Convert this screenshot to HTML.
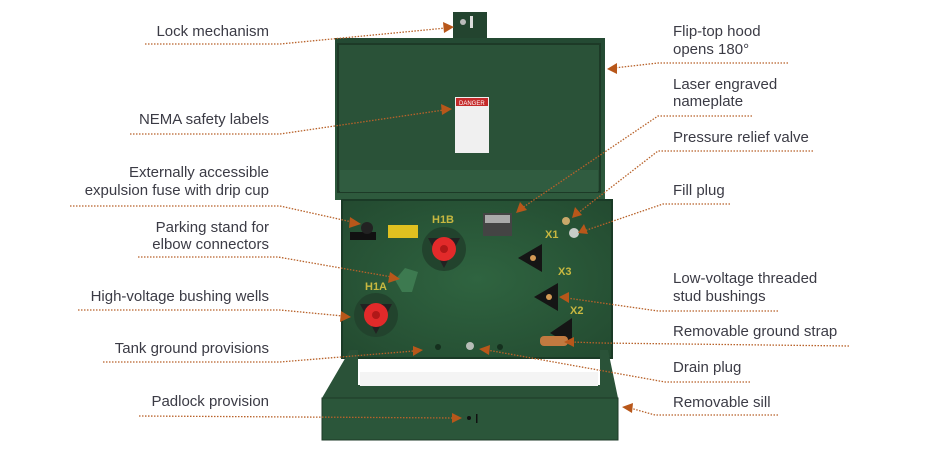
<!DOCTYPE html>
<html><head><meta charset="utf-8"><style>
html,body{margin:0;padding:0;background:#fff;width:936px;height:452px;overflow:hidden}
svg{display:block}
text{font-family:"Liberation Sans",sans-serif;font-size:15px;fill:#3b3b45}
.l{stroke:#b8622a;stroke-width:1.3;stroke-dasharray:1.5 1.5;fill:none}
.a{fill:#b8571a}
</style></head><body>
<svg width="936" height="452" viewBox="0 0 936 452" xmlns="http://www.w3.org/2000/svg">
<defs>
<linearGradient id="hood" x1="0" y1="0" x2="0" y2="1"><stop offset="0" stop-color="#244a33"/><stop offset="1" stop-color="#2e5a3d"/></linearGradient>
<radialGradient id="tank" cx="0.5" cy="0.5" r="0.7"><stop offset="0" stop-color="#2f6440"/><stop offset="1" stop-color="#234a30"/></radialGradient>
</defs>
<!-- transformer -->
<rect x="453" y="12" width="34" height="28" fill="#23442f"/>
<rect x="470" y="16" width="3" height="12" fill="#ddd"/><circle cx="463" cy="22" r="3" fill="#bbb"/>
<rect x="335" y="38" width="270" height="162" fill="url(#hood)"/>
<rect x="338" y="44" width="262" height="148" fill="#2a5238" stroke="#1d3a27" stroke-width="2"/>
<rect x="340" y="170" width="258" height="22" fill="#305c40"/>
<rect x="455" y="97" width="34" height="56" fill="#f0f0f0"/>
<rect x="456" y="98" width="32" height="8" fill="#c52a2a"/>
<text x="459" y="105" style="font-size:6px;fill:#fff">DANGER</text>
<rect x="342" y="200" width="270" height="158" fill="url(#tank)" stroke="#1a3a26" stroke-width="2"/>
<!-- fuse -->
<rect x="350" y="232" width="26" height="8" fill="#111"/><circle cx="367" cy="228" r="6" fill="#222"/>
<rect x="388" y="225" width="30" height="13" fill="#e0c020"/>
<!-- labels -->
<text x="432" y="223" style="font-size:11px;font-weight:bold;fill:#c8b840">H1B</text>
<text x="365" y="290" style="font-size:11px;font-weight:bold;fill:#c8b840">H1A</text>
<text x="545" y="238" style="font-size:11px;font-weight:bold;fill:#c8b840">X1</text>
<text x="558" y="275" style="font-size:11px;font-weight:bold;fill:#c8b840">X3</text>
<text x="570" y="314" style="font-size:11px;font-weight:bold;fill:#c8b840">X2</text>
<!-- HV bushings -->
<circle cx="444" cy="249" r="22" fill="#22432d"/><polygon points="428,238 460,238 444,268" fill="#222"/>
<circle cx="444" cy="249" r="12" fill="#e22a2a"/><circle cx="444" cy="249" r="4" fill="#b01818"/>
<circle cx="376" cy="315" r="22" fill="#22432d"/><polygon points="360,304 392,304 376,334" fill="#222"/>
<circle cx="376" cy="315" r="12" fill="#e22a2a"/><circle cx="376" cy="315" r="4" fill="#b01818"/>
<!-- parking stand -->
<path d="M395,280 L405,268 L418,272 L412,292 L402,292 Z" fill="#3d7a50"/>
<!-- nameplate -->
<rect x="483" y="213" width="29" height="23" fill="#444"/>
<rect x="485" y="215" width="25" height="8" fill="#aaa"/>
<!-- valves -->
<circle cx="566" cy="221" r="4" fill="#c9a86a"/><circle cx="574" cy="233" r="5" fill="#c8ccc8"/>
<!-- LV bushings -->
<polygon points="518,258 542,244 542,272" fill="#151515"/><circle cx="533" cy="258" r="3" fill="#d49a55"/>
<polygon points="534,297 558,283 558,311" fill="#151515"/><circle cx="549" cy="297" r="3" fill="#d49a55"/>
<polygon points="550,333 572,318 572,346" fill="#151515"/>
<rect x="540" y="336" width="28" height="10" rx="4" fill="#c27a40"/>
<!-- bottom bolts -->
<circle cx="438" cy="347" r="3" fill="#15301e"/><circle cx="470" cy="346" r="4" fill="#b7bdb7"/><circle cx="500" cy="347" r="3" fill="#15301e"/>
<!-- sill -->
<polygon points="350,350 358,350 358,385 600,385 600,350 608,350 618,398 322,398" fill="#2a5238"/>
<rect x="360" y="372" width="238" height="14" fill="#f4f4f4"/>
<rect x="322" y="398" width="296" height="42" fill="#2b563a" stroke="#1d3a27" stroke-width="1"/>
<circle cx="469" cy="418" r="2" fill="#111"/><rect x="476" y="414" width="1.5" height="9" fill="#111"/>

<!-- left labels -->
<g text-anchor="end">
<text x="269" y="36">Lock mechanism</text>
<text x="269" y="124">NEMA safety labels</text>
<text x="269" y="177">Externally accessible</text>
<text x="269" y="195">expulsion fuse with drip cup</text>
<text x="269" y="232">Parking stand for</text>
<text x="269" y="249">elbow connectors</text>
<text x="269" y="301">High-voltage bushing wells</text>
<text x="269" y="353">Tank ground provisions</text>
<text x="269" y="406">Padlock provision</text>
</g>
<!-- right labels -->
<text x="673" y="36">Flip-top hood</text>
<text x="673" y="54">opens 180°</text>
<text x="673" y="89">Laser engraved</text>
<text x="673" y="106">nameplate</text>
<text x="673" y="142">Pressure relief valve</text>
<text x="673" y="195">Fill plug</text>
<text x="673" y="283">Low-voltage threaded</text>
<text x="673" y="301">stud bushings</text>
<text x="673" y="336">Removable ground strap</text>
<text x="673" y="372">Drain plug</text>
<text x="673" y="407">Removable sill</text>

<!-- leaders -->
<path class="l" d="M145,44 L280,44 L446,28"/>
<path class="l" d="M130,134 L280,134 L444,110"/>
<path class="l" d="M70,206 L280,206 L352,222"/>
<path class="l" d="M138,257 L278,257 L392,277"/>
<path class="l" d="M78,310 L280,310 L343,316"/>
<path class="l" d="M103,362 L280,362 L414,351"/>
<path class="l" d="M139,416 L455,418"/>
<path class="l" d="M788,63 L658,63 L614,68"/>
<path class="l" d="M752,116 L658,116 L522,208"/>
<path class="l" d="M813,151 L658,151 L578,213"/>
<path class="l" d="M730,204 L663,204 L584,231"/>
<path class="l" d="M778,311 L658,311 L567,298"/>
<path class="l" d="M849,346 L600,343 L572,342"/>
<path class="l" d="M750,382 L665,382 L487,350"/>
<path class="l" d="M778,415 L655,415 L630,408"/>
<!-- arrowheads -->
<polygon class="a" points="454,27 443,22 444,33"/>
<polygon class="a" points="452,109 441,104 442,115"/>
<polygon class="a" points="361,224 350,217 349,228"/>
<polygon class="a" points="400,279 390,272 388,283"/>
<polygon class="a" points="351,317 341,311 340,322"/>
<polygon class="a" points="423,350 413,346 413,356"/>
<polygon class="a" points="462,418 452,413 452,423"/>
<polygon class="a" points="607,69 617,63 617,74"/>
<polygon class="a" points="516,213 520,202 527,210"/>
<polygon class="a" points="572,218 575,207 582,215"/>
<polygon class="a" points="578,233 584,224 588,234"/>
<polygon class="a" points="559,297 569,292 569,303"/>
<polygon class="a" points="564,342 574,337 574,347"/>
<polygon class="a" points="479,349 490,345 489,355"/>
<polygon class="a" points="622,407 633,403 632,413"/>
</svg>
</body></html>
